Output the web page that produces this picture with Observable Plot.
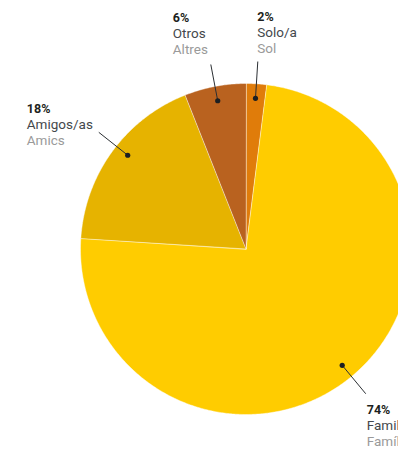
<!DOCTYPE html>
<html>
<head>
<meta charset="utf-8">
<script src="https://cdn.jsdelivr.net/npm/d3@7"></script>
<script src="https://cdn.jsdelivr.net/npm/@observablehq/plot@0.6"></script>
<style>
  html, body { margin: 0; padding: 0; background: #fff; }
  #chart svg { display: block; overflow: hidden; }
</style>
</head>
<body>
<div id="chart"></div>
<script>
// ---- data ----
const categories = ["Solo/a", "Familia", "Amigos/as", "Otros"];
const catalan    = ["Sol", "Família", "Amics", "Altres"];
const values     = [2, 74, 18, 6];
const colors     = ["#E07C0A", "#FFCC00", "#E6B300", "#B9621F"];

// ---- layout (pixels) ----
const W = 398, H = 449;
const cx = 245.5, cy = 248.5, R = 165.5;
const dotR = 0.912, endR = 1.135;
// per-label placement of the text block relative to the leader end (px) and angle nudge (deg)
const labelLayout = {
  "Solo/a":    {dx: -0.5, dy: -41, nudge: 0},
  "Familia":   {dx: 1,    dy: 20,  nudge: 0},
  "Amigos/as": {dx: -72,  dy: -19, nudge: 2.4},
  "Otros":     {dx: -38,  dy: -42, nudge: 0}
};

const pie = d3.pie().sort(null).value(d => d.value);
const rows = categories.map((c, i) => ({cat: c, cat2: catalan[i], value: values[i]}));
const arcs = pie(rows);

// polygon points for each slice (unit circle, y up)
const pts = [];
for (const a of arcs) {
  const c = a.data.cat;
  pts.push({cat: c, x: 0, y: 0});
  const n = Math.max(2, Math.ceil((a.endAngle - a.startAngle) / (Math.PI / 360)));
  for (let k = 0; k <= n; k++) {
    const t = a.startAngle + (a.endAngle - a.startAngle) * k / n;
    pts.push({cat: c, x: Math.sin(t), y: Math.cos(t)});
  }
}

const labels = arcs.map(a => {
  const L = labelLayout[a.data.cat];
  const m = (a.startAngle + a.endAngle) / 2 + L.nudge * Math.PI / 180;
  return {
    cat: a.data.cat, cat2: a.data.cat2, pct: a.data.value + "%",
    x1: dotR * Math.sin(m), y1: dotR * Math.cos(m),
    x2: endR * Math.sin(m), y2: endR * Math.cos(m),
    dx: L.dx, dy: L.dy
  };
});

const font = "Roboto, 'Open Sans', sans-serif";

const chart = Plot.plot({
  width: W, height: H,
  margin: 0,
  style: {background: "#fff", fontFamily: font},
  x: {domain: [-cx / R, (W - cx) / R], axis: null},
  y: {domain: [-(H - cy) / R, cy / R], axis: null},
  color: {domain: categories, range: colors},
  marks: [
    Plot.line(pts, {x: "x", y: "y", z: "cat", fill: "cat", stroke: "#fff", strokeOpacity: 0.55, strokeWidth: 0.8, curve: "linear-closed"}),
    Plot.link(labels, {x1: "x1", y1: "y1", x2: "x2", y2: "y2", stroke: "#2b2f33", strokeWidth: 1}),
    Plot.dot(labels, {x: "x1", y: "y1", r: 2.6, fill: "#1c1f22", stroke: null}),
    ...labels.map(l => [
      Plot.text([l], {x: "x2", y: "y2", text: "pct", dx: l.dx, dy: l.dy, textAnchor: "start", lineAnchor: "bottom", fontSize: 12.5, fontWeight: "bold", fill: "#1d1f21"}),
      Plot.text([l], {x: "x2", y: "y2", text: "cat", dx: l.dx, dy: l.dy + 16, textAnchor: "start", lineAnchor: "bottom", fontSize: 13.5, fill: "#44484c"}),
      Plot.text([l], {x: "x2", y: "y2", text: "cat2", dx: l.dx, dy: l.dy + 32, textAnchor: "start", lineAnchor: "bottom", fontSize: 13.5, fill: "#9a9a9a"})
    ]).flat()
  ]
});
document.getElementById("chart").appendChild(chart);
</script>
</body>
</html>
